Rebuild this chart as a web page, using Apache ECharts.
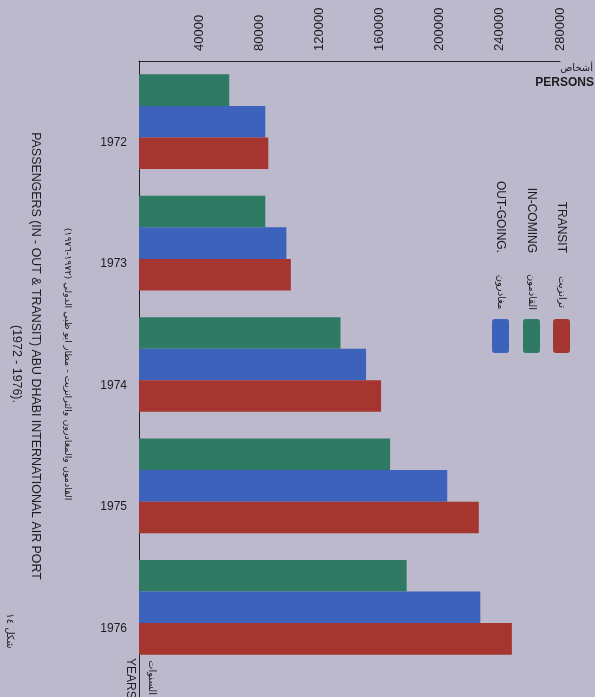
<!DOCTYPE html>
<html>
<head>
<meta charset="utf-8">
<script src="https://cdn.jsdelivr.net/npm/echarts@6/dist/echarts.min.js"></script>
<style>
  html, body { margin: 0; padding: 0; background: #bbb9cb; }
  #chart { width: 595px; height: 697px; }
</style>
</head>
<body>
<div id="chart"></div>
<script>
// ---- data ----
const years = ['1972', '1973', '1974', '1975', '1976'];
const inComing = [60000, 84000, 134000, 167000, 178000];
const outGoing = [84000, 98000, 151000, 205000, 227000];
const transit = [86000, 101000, 161000, 226000, 248000];
const axisMin = 0;
const axisMax = 280000;
const axisStep = 40000;
const seriesNamesEn = ['TRANSIT', 'IN-COMING', 'OUT-GOING.'];
const seriesNamesAr = ['ترانزيت', 'القادمون', 'مغادرون'];
const titleLine1 = 'PASSENGERS (IN - OUT & TRANSIT) ABU DHABI INTERNATIONAL AIR PORT';
const titleLine2 = '(1972 - 1976).';
const titleAr = 'القادمون والمغادرون والترانزيت - مطار ابو ظبي الدولي (١٩٧٢-١٩٧٦)';
const figureAr = 'شكل ١٤';
const unitEn = 'PERSONS';
const unitAr = 'أشخاص';
const catEn = 'YEARS';
const catAr = 'السنوات';

// ---- styles ----
const GREEN = '#2f7a62';
const BLUE = '#3d62bc';
const RED = '#a5352f';
const INK = '#1c1c1e';
const LAT = '"Liberation Sans", Arial, sans-serif';
const AR = '"DejaVu Sans", sans-serif';
const ROT = -Math.PI / 2;

function rtext(x, y, text, size, align, family, weight) {
  return {
    type: 'text', x: x, y: y, rotation: ROT, silent: true,
    style: {
      text: text, fontSize: size, fontFamily: family || LAT,
      fontWeight: weight || 'normal', fill: INK,
      align: align || 'center', verticalAlign: 'middle'
    }
  };
}
function htext(x, y, text, size, align, family, weight) {
  return {
    type: 'text', x: x, y: y, silent: true,
    style: {
      text: text, fontSize: size, fontFamily: family || LAT,
      fontWeight: weight || 'normal', fill: INK,
      align: align || 'left', verticalAlign: 'middle'
    }
  };
}

const legendColors = [RED, GREEN, BLUE];
const legendX = [561, 531, 500];
const graphics = [
  rtext(35, 356, titleLine1, 12.4),
  rtext(16, 364, titleLine2, 12.4),
  rtext(67, 364, titleAr, 9.5, 'center', AR),
  rtext(10, 631, figureAr, 10, 'center', AR),
  htext(594, 83, unitEn, 12, 'right', LAT, 'bold'),
  htext(593, 68, unitAr, 10, 'right', AR),
  rtext(130, 658, catEn, 12, 'left'),
  rtext(152, 660, catAr, 10, 'left', AR),
  { type: 'line', silent: true, shape: { x1: 139.5, y1: 668, x2: 139.5, y2: 697 }, style: { stroke: '#222', lineWidth: 1 } }
];
for (let i = 0; i < 3; i++) {
  graphics.push(rtext(legendX[i], 253, seriesNamesEn[i], 12, 'right'));
  graphics.push(rtext(legendX[i] + 1, 292, seriesNamesAr[i], 10, 'center', AR));
  graphics.push({
    type: 'rect', silent: true,
    shape: { x: legendX[i] - 8, y: 319, width: 17, height: 34, r: 3 },
    style: { fill: legendColors[i] }
  });
}

const chart = echarts.init(document.getElementById('chart'), null, { renderer: 'canvas' });
chart.setOption({
  backgroundColor: '#bbb9cb',
  animation: false,
  grid: { left: 139, right: 35, top: 61, bottom: 29, containLabel: false },
  xAxis: {
    type: 'value', position: 'top', min: axisMin, max: axisMax, interval: axisStep,
    axisLine: { show: true, lineStyle: { color: '#222', width: 1 } },
    axisTick: { show: false },
    splitLine: { show: false },
    axisLabel: {
      rotate: -90, margin: 10, showMinLabel: false, fontSize: 13, color: INK, fontFamily: LAT,
      formatter: function (v) { return String(v); }
    }
  },
  yAxis: {
    type: 'category', data: years, inverse: true,
    axisLine: { show: true, lineStyle: { color: '#222', width: 1 } },
    axisTick: { show: false },
    axisLabel: {
      margin: 12, fontSize: 12, color: INK, fontFamily: LAT, lineHeight: 42,
      formatter: function (v) { return '\n' + v; }
    }
  },
  series: [
    { name: seriesNamesEn[1], type: 'bar', data: inComing, itemStyle: { color: GREEN }, barGap: '0%', barCategoryGap: '22%' },
    { name: seriesNamesEn[2], type: 'bar', data: outGoing, itemStyle: { color: BLUE }, barGap: '0%', barCategoryGap: '22%' },
    { name: seriesNamesEn[0], type: 'bar', data: transit, itemStyle: { color: RED }, barGap: '0%', barCategoryGap: '22%' }
  ],
  graphic: graphics
});
</script>
</body>
</html>
